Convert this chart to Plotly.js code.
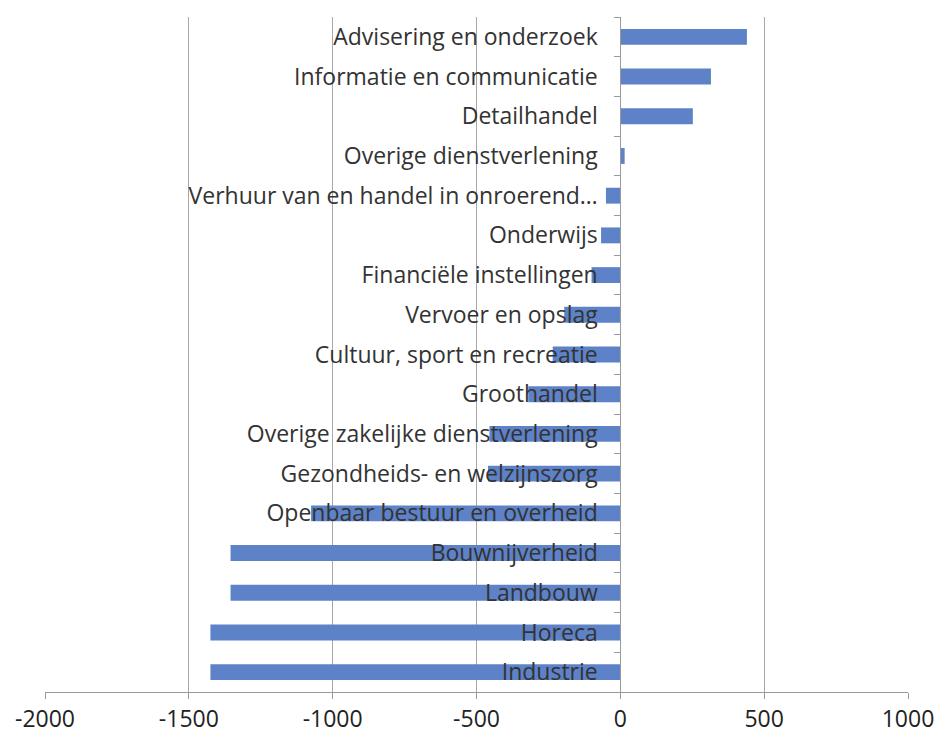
<!DOCTYPE html>
<html>
<head>
<meta charset="utf-8">
<script src="https://cdn.plot.ly/plotly-3.0.1.min.js"></script>
<style>html,body{margin:0;padding:0;background:#fff;}#chart{width:946px;height:741px;}</style>
</head>
<body>
<div id="chart"></div>
<script>
var categories = [
  "Advisering en onderzoek",
  "Informatie en communicatie",
  "Detailhandel",
  "Overige dienstverlening",
  "Verhuur van en handel in onroerend\u2026",
  "Onderwijs",
  "Financiële instellingen",
  "Vervoer en opslag",
  "Cultuur, sport en recreatie",
  "Groothandel",
  "Overige zakelijke dienstverlening",
  "Gezondheids- en welzijnszorg",
  "Openbaar bestuur en overheid",
  "Bouwnijverheid",
  "Landbouw",
  "Horeca",
  "Industrie"
];
var values = [440, 315, 252, 15, -50, -67, -100, -195, -235, -320, -455, -460, -1075, -1355, -1355, -1425, -1425];
var xTicks = [-2000, -1500, -1000, -500, 0, 500, 1000];

var font = "'Open Sans', 'Noto Sans', sans-serif";
Plotly.newPlot('chart', [{
  type: 'bar',
  orientation: 'h',
  y: categories,
  x: values,
  width: 0.4,
  marker: {color: '#5d82c8', line: {width: 0}},
  hoverinfo: 'x+y'
}], {
  width: 946, height: 741,
  margin: {l: 45, r: 38, t: 17, b: 49},
  paper_bgcolor: '#ffffff',
  plot_bgcolor: '#ffffff',
  showlegend: false,
  font: {family: font, size: 23, color: '#333333'},
  xaxis: {
    range: [-2000, 1000],
    tickvals: xTicks,
    ticktext: xTicks.map(String),
    showgrid: true, gridcolor: '#a8a8a8', gridwidth: 1,
    zeroline: false,
    showline: true, linecolor: '#9a9a9a', linewidth: 1,
    ticks: 'outside', ticklen: 6, tickcolor: '#9a9a9a',
    tickfont: {family: font, size: 23, color: '#222222'},
    mirror: false
  },
  yaxis: {
    type: 'category',
    autorange: 'reversed',
    anchor: 'free',
    position: 2/3,
    showgrid: false,
    zeroline: false,
    showline: true, linecolor: '#9a9a9a', linewidth: 1,
    ticks: 'outside', ticklen: 6, tickcolor: '#9a9a9a',
    tickson: 'boundaries',
    ticklabelstandoff: 18,
    tickfont: {family: font, size: 23, color: '#333333'},
    layer: 'above traces'
  }
}, {displayModeBar: false, staticPlot: true});
</script>
</body>
</html>
